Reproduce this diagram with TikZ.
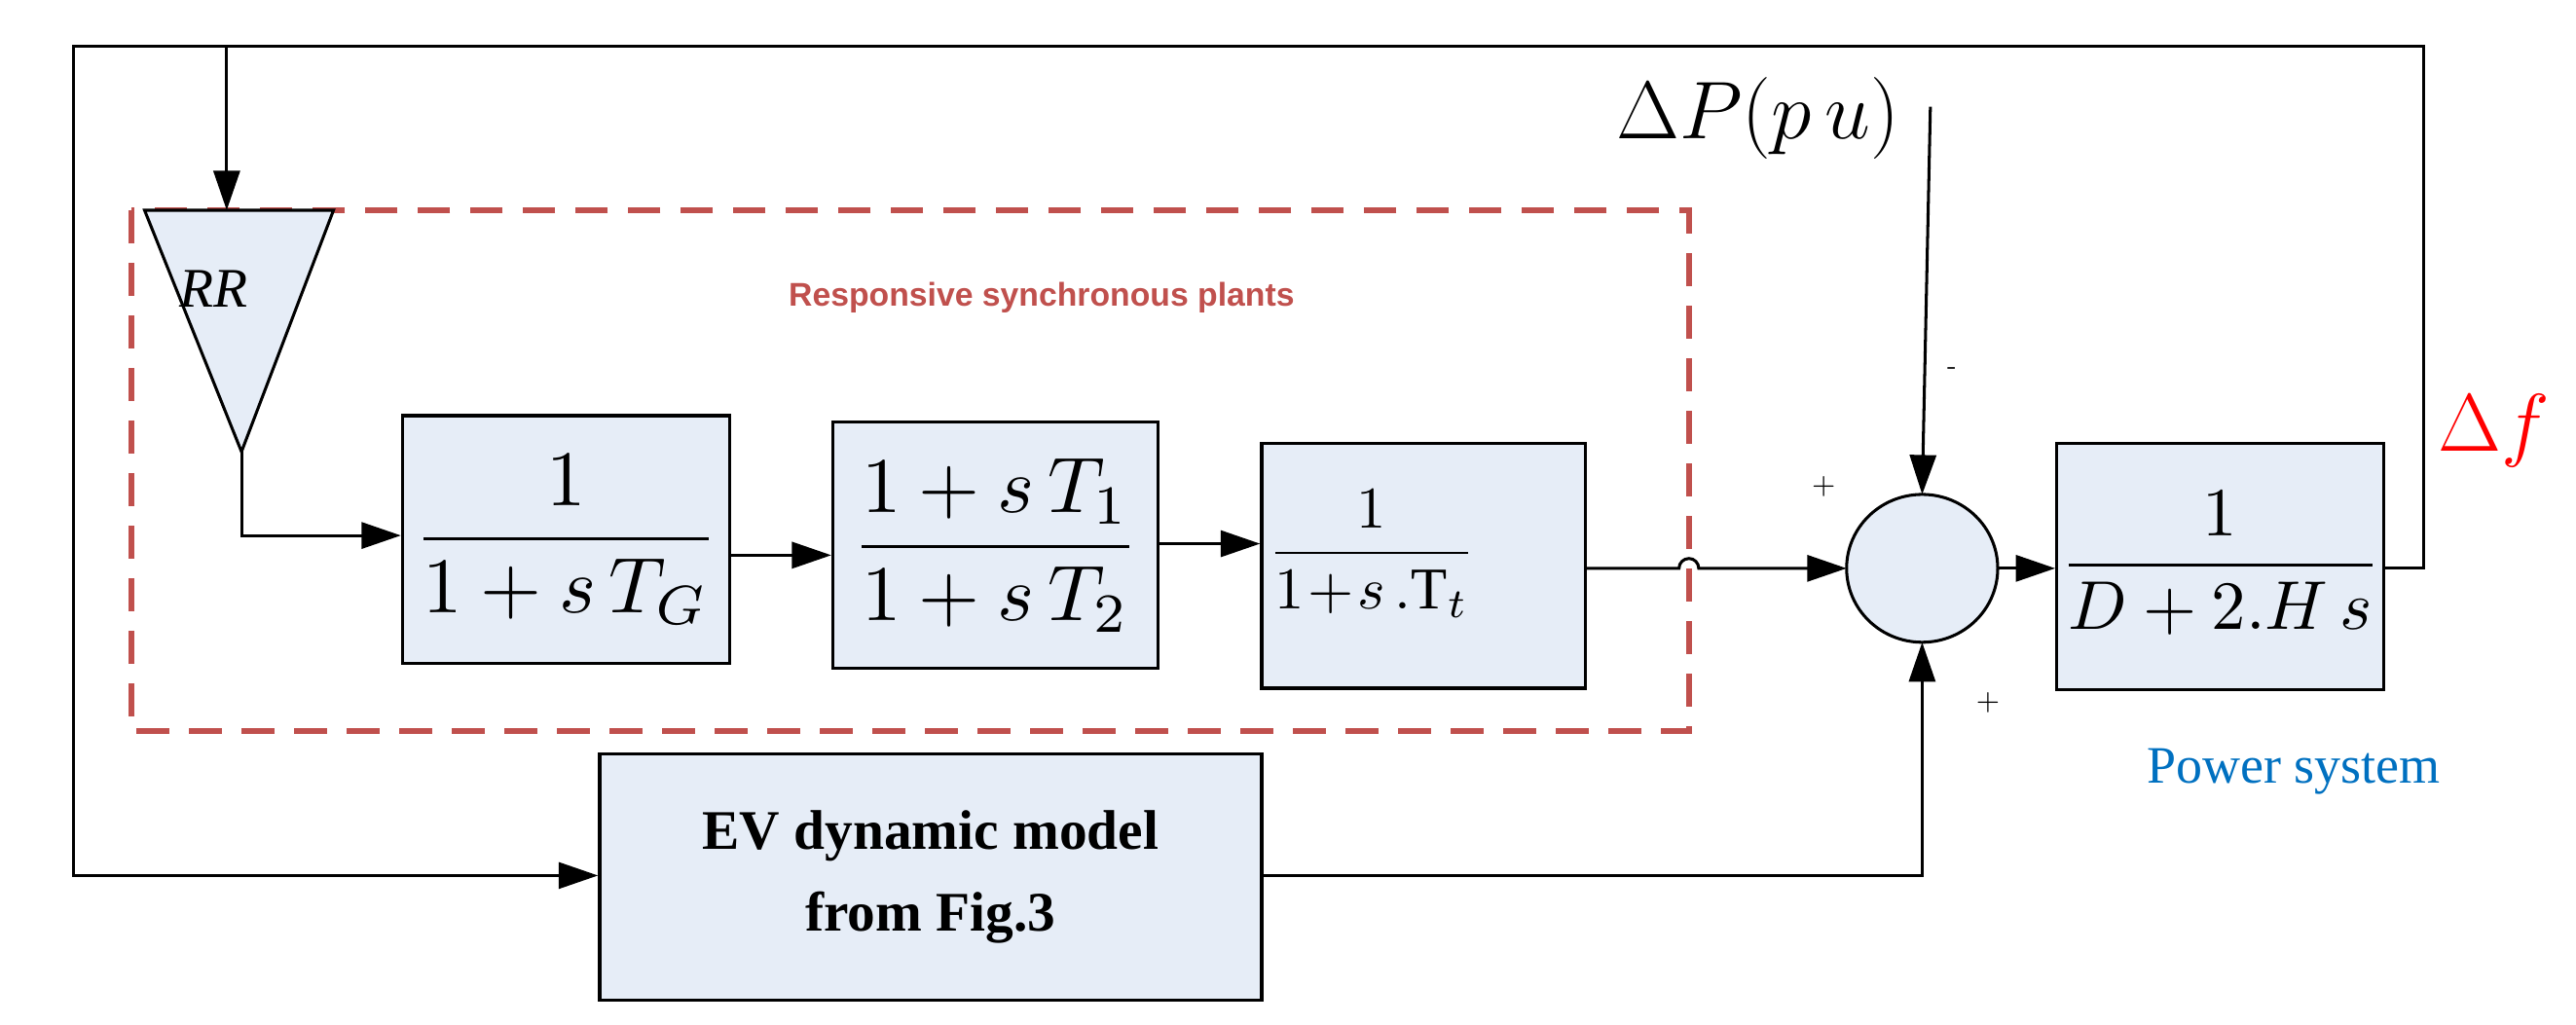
\documentclass[tikz,border=0pt]{standalone}
\usepackage{amsmath}
\usepackage{fontspec}
\setmainfont{Liberation Serif}
\newfontfamily\sansf{Liberation Sans}
\usetikzlibrary{arrows.meta}
\definecolor{boxfill}{RGB}{230,237,247}
\definecolor{dashred}{RGB}{192,80,77}
\definecolor{psblue}{RGB}{0,112,192}
\begin{document}
\begin{tikzpicture}[x=0.5pt,y=-0.5pt,
  blk/.style={draw,line width=1pt,fill=boxfill},
  arr/.style={line width=0.9pt,-{Triangle[length=12pt,width=8pt]}},
  ln/.style={line width=0.9pt},
  frac/.style={scale=2.4}]
\useasboundingbox (0,0) rectangle (1568,624);
% dashed region
\draw[dashred,line width=1.8pt,dash pattern=on 10pt off 6pt] (80,128) rectangle (1028,445);
\node[text=dashred,font=\sansf\bfseries\fontsize{10}{12}\selectfont] (lbl) at (634,181) {Responsive synchronous plants};
% triangle
\draw[fill=boxfill,line width=0.9pt] (88,128) coordinate (t1) -- (203,128) coordinate (t2) -- (147,275) coordinate (tip) -- cycle;
\node[font=\itshape\fontsize{17}{20}\selectfont] (rr) at (130,176) {RR};
% blocks
\node[blk,minimum width=99.5pt,minimum height=75.5pt] (g1) at (344.5,328.5) {};
\node[frac] at (g1) {$\dfrac{1}{1+s\,T_G}$};
\node[blk,minimum width=99pt,minimum height=75pt] (g2) at (606,332) {};
\node[frac] at (g2) {$\dfrac{1+s\,T_1}{1+s\,T_2}$};
\node[blk,minimum width=98.5pt,minimum height=74.5pt] (g3) at (866.5,344.5) {};
\node[scale=1.8] at (835,337) {$\dfrac{1}{1\!+\!s\,.\mathrm{T}_t}$};
\node[blk,minimum width=99.5pt,minimum height=75pt] (g4) at (1351.5,345) {};
\node[scale=2.1] at (1351.5,343) {$\dfrac{1}{D+2.H\,s}$};
\node[blk,minimum width=201.5pt,minimum height=75pt,align=center,font=\bfseries\fontsize{17}{25}\selectfont] (ev) at (566.5,534) {EV dynamic model\\from Fig.3};
% sum
\draw[fill=boxfill,line width=0.9pt] (1170,346) ellipse [x radius=46, y radius=45];
\coordinate (sumW) at (1124,346);
\coordinate (sumE) at (1216,346);
\coordinate (sumN) at (1170,301);
\coordinate (sumS) at (1170,391);
% labels
\node[font=\fontsize{30}{34}\selectfont] (dp) at (1070,72) {$\Delta P(p\,u)$};
\node[text=red,font=\fontsize{42}{46}\selectfont] (df) at (1518,262) {$\Delta f$};
\node[text=psblue,font=\fontsize{16}{18}\selectfont] (ps) at (1396,470) {Power system};
\node[font=\sffamily\fontsize{8}{10}\selectfont] at (1188,226) {-};
\node[font=\sffamily\fontsize{9}{10}\selectfont] at (1110,296) {+};
\node[font=\sffamily\fontsize{9}{10}\selectfont] at (1210,428) {+};
% connections
\coordinate (c1) at (1475,28);
\draw[arr] (g4.east |- 0,346) -- (1475,346) -- (c1) -- (45,28) -- (45,533) -- (ev.west |- 0,533);
\draw[arr] (138,28) -- (138,128);
\draw[arr] (tip) -- (147,326) -- (g1.west |- 0,326);
\draw[arr] (g1.east |- 0,338) -- (g2.west |- 0,338);
\draw[arr] (g2.east |- 0,331) -- (g3.west |- 0,331);
\draw[arr] (g3.east |- 0,346) -- (1022,346) arc[start angle=180,end angle=360,radius=6] -- (sumW);
\draw[arr] (sumE) -- (g4.west |- 0,346);
\draw[arr] (1175,65) -- (sumN);
\draw[arr] (ev.east |- 0,533) -- (1170,533) -- (sumS);
\end{tikzpicture}
\end{document}
